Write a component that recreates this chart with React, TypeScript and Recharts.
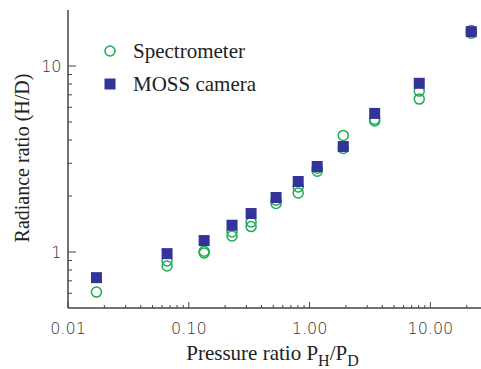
import React from "react";
import { ScatterChart, Scatter, XAxis, YAxis, Legend, Label } from "recharts";

// ---- data ----
const mossPressure = [0.0172, 0.0661, 0.134, 0.228, 0.328, 0.528, 0.805, 1.156, 1.9, 3.46, 8.09, 21.8];
const mossRadiance = [0.728, 0.98, 1.152, 1.393, 1.61, 1.963, 2.393, 2.883, 3.69, 5.56, 8.07, 15.3];

const spectroPressure = [
  0.0172, 0.0661, 0.0661, 0.134, 0.134, 0.228, 0.228, 0.328, 0.328, 0.528, 0.528,
  0.805, 0.805, 1.156, 1.156, 1.9, 1.9, 3.46, 3.46, 8.09, 8.09, 21.8, 21.8,
];
const spectroRadiance = [
  0.609, 0.894, 0.841, 1.009, 0.988, 1.281, 1.219, 1.45, 1.37, 1.898, 1.822,
  2.239, 2.078, 2.823, 2.72, 4.235, 3.604, 5.18, 5.06, 7.33, 6.64, 15.0, 15.5,
];

const xMajorTicks = [0.01, 0.1, 1, 10];
const xMajorLabels = ["0.01", "0.10", "1.00", "10.00"];
const xMinorTicks = [0.02, 0.03, 0.04, 0.05, 0.06, 0.07, 0.08, 0.09, 0.2, 0.3, 0.4, 0.5, 0.6, 0.7, 0.8, 0.9, 2, 3, 4, 5, 6, 7, 8, 9, 20];
const yMajorTicks = [1, 10];
const yMajorLabels = ["1", "10"];
const yMinorTicks = [0.6, 0.7, 0.8, 0.9, 2, 3, 4, 5, 6, 7, 8, 9];

const seriesNames = ["Spectrometer", "MOSS camera"];

const xDomain: [number, number] = [0.01, 30];
const yDomain: [number, number] = [0.5, 20];

const mossData = mossPressure.map((x, i) => ({ x, y: mossRadiance[i] }));
const spectroData = spectroPressure.map((x, i) => ({ x, y: spectroRadiance[i] }));

const xAllTicks = [...xMajorTicks, ...xMinorTicks].sort((a, b) => a - b);
const yAllTicks = [...yMajorTicks, ...yMinorTicks].sort((a, b) => a - b);

const GREEN = "#1aad52";
const BLUE = "#333399";
const AXIS = "#444";
const TICKFONT = "'DejaVu Sans', sans-serif";
const SERIF = "'Liberation Serif', 'Times New Roman', serif";

const BottomTick = (props: any) => {
  const { x, y, payload } = props;
  const idx = xMajorTicks.indexOf(payload.value);
  const major = idx >= 0;
  return (
    <g>
      <line x1={x} x2={x} y1={y} y2={y - (major ? 6 : 3)} stroke={AXIS} strokeWidth={1} />
      {major && (
        <text x={x} y={y + 25.7} textAnchor="middle" fontFamily={TICKFONT} fontWeight={200} fontSize={16} fill="#333">
          {xMajorLabels[idx]}
        </text>
      )}
    </g>
  );
};

const TopTick = (props: any) => {
  const { x, y, payload } = props;
  const major = xMajorTicks.indexOf(payload.value) >= 0;
  return <line x1={x} x2={x} y1={y} y2={y + (major ? 6 : 3)} stroke={AXIS} strokeWidth={1} />;
};

const LeftTick = (props: any) => {
  const { x, y, payload } = props;
  const idx = yMajorTicks.indexOf(payload.value);
  const major = idx >= 0;
  return (
    <g>
      <line x1={x} x2={x + (major ? 8 : 4)} y1={y} y2={y} stroke={AXIS} strokeWidth={1} />
      {major && (
        <text x={x - 6.5} y={y + 5.85} textAnchor="end" fontFamily={TICKFONT} fontWeight={200} fontSize={16} fill="#333">
          {yMajorLabels[idx]}
        </text>
      )}
    </g>
  );
};

const RightTick = (props: any) => {
  const { x, y, payload } = props;
  const major = yMajorTicks.indexOf(payload.value) >= 0;
  return <line x1={x} x2={x - (major ? 8 : 4)} y1={y} y2={y} stroke={AXIS} strokeWidth={1} />;
};

const CircleShape = (props: any) => (
  <circle cx={props.cx} cy={props.cy} r={5} fill="none" stroke={GREEN} strokeWidth={1.5} />
);
const SquareShape = (props: any) => (
  <rect x={props.cx - 5.5} y={props.cy - 5.5} width={11} height={11} fill={BLUE} />
);

const XTitle = (props: any) => {
  const vb = props.viewBox || { x: 0, y: 0, width: 0, height: 0 };
  const cx = vb.x + vb.width / 2 - 5.5;
  const by = vb.y + 51.7;
  return (
    <text x={cx} y={by} textAnchor="middle" fontFamily={SERIF} fontSize={21} fill="#222">
      Pressure ratio P
      <tspan dy={6} fontSize={16}>H</tspan>
      <tspan dy={-6}>/P</tspan>
      <tspan dy={6} fontSize={16}>D</tspan>
    </text>
  );
};

const YTitle = (props: any) => {
  const vb = props.viewBox || { x: 0, y: 0, width: 0, height: 0 };
  const bx = vb.x + 28.5;
  const cy = vb.y + vb.height / 2 - 1;
  return (
    <text x={bx} y={cy} transform={`rotate(-90, ${bx}, ${cy})`} textAnchor="middle" fontFamily={SERIF} fontSize={20} fill="#222">
      Radiance ratio (H/D)
    </text>
  );
};

const LegendContent = () => (
  <div style={{ fontFamily: SERIF, fontSize: 21, color: "#222" }}>
    {seriesNames.map((name, i) => (
      <div key={name} style={{ display: "flex", alignItems: "center", height: 33, whiteSpace: "nowrap" }}>
        <svg width={12} height={12} style={{ display: "block", flex: "none" }}>
          {i === 0 ? (
            <circle cx={6} cy={6} r={5} fill="none" stroke={GREEN} strokeWidth={1.5} />
          ) : (
            <rect x={0.5} y={0.5} width={11} height={11} fill={BLUE} />
          )}
        </svg>
        <span style={{ marginLeft: 17, lineHeight: "33px" }}>{name}</span>
      </div>
    ))}
  </div>
);

export default function App() {
  return (
    <div style={{ position: "absolute", left: 0, top: 0, width: 481, height: 369, overflow: "hidden", background: "#fff" }}>
      <ScatterChart width={490} height={369} margin={{ top: 10, right: 2, bottom: 21, left: 0 }}>
        <XAxis
          dataKey="x"
          type="number"
          scale="log"
          domain={xDomain}
          allowDataOverflow
          ticks={xAllTicks}
          interval={0}
          tick={<BottomTick />}
          tickLine={false}
          tickSize={0}
          tickMargin={0}
          height={40}
          axisLine={{ stroke: AXIS, strokeWidth: 1.5 }}
        >
          <Label content={<XTitle />} />
        </XAxis>
        <XAxis
          xAxisId="top"
          orientation="top"
          dataKey="x"
          type="number"
          scale="log"
          domain={xDomain}
          allowDataOverflow
          ticks={xAllTicks}
          interval={0}
          tick={<TopTick />}
          tickLine={false}
          tickSize={0}
          tickMargin={0}
          height={0}
          axisLine={{ stroke: AXIS, strokeWidth: 1.5 }}
        />
        <YAxis
          dataKey="y"
          type="number"
          scale="log"
          domain={yDomain}
          allowDataOverflow
          ticks={yAllTicks}
          interval={0}
          tick={<LeftTick />}
          tickLine={false}
          tickSize={0}
          tickMargin={0}
          width={68}
          axisLine={{ stroke: AXIS, strokeWidth: 1.5 }}
        >
          <Label content={<YTitle />} />
        </YAxis>
        <YAxis
          yAxisId="right"
          orientation="right"
          dataKey="y"
          type="number"
          scale="log"
          domain={yDomain}
          allowDataOverflow
          ticks={yAllTicks}
          interval={0}
          tick={<RightTick />}
          tickLine={false}
          tickSize={0}
          tickMargin={0}
          width={0}
          axisLine={{ stroke: AXIS, strokeWidth: 1.5 }}
        />
        <Legend
          layout="horizontal"
          verticalAlign="middle"
          align="center"
          content={<LegendContent />}
          wrapperStyle={{ left: 104, top: 34.5, width: 220, height: 66 }}
        />
        <Scatter name={seriesNames[0]} data={spectroData} shape={<CircleShape />} isAnimationActive={false} />
        <Scatter name={seriesNames[1]} data={mossData} shape={<SquareShape />} isAnimationActive={false} />
      </ScatterChart>
    </div>
  );
}
